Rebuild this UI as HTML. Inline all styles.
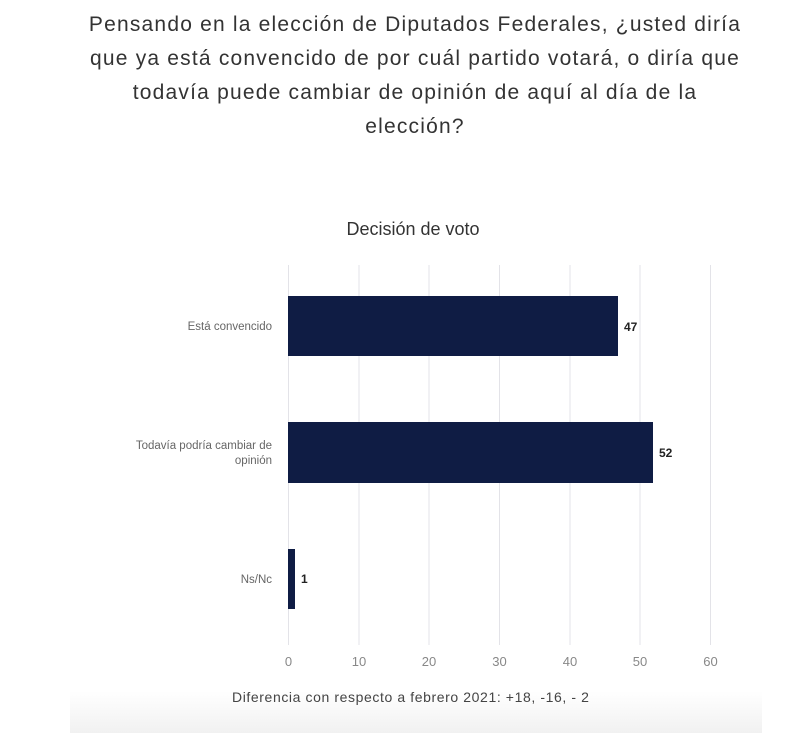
<!DOCTYPE html>
<html><head><meta charset="utf-8"><style>
body{margin:0;width:800px;height:749px;background:#fff;font-family:"Liberation Sans",sans-serif;position:relative;overflow:hidden}
.h{position:absolute;left:0;width:830px;top:8px;text-align:center;font-size:21px;line-height:34px;color:#333;letter-spacing:1.2px;white-space:nowrap}
.band{position:absolute;left:70px;top:640px;width:692px;height:93px;background:linear-gradient(#fff 0%,#fff 55%,#f1f1f1 100%)}
</style></head><body>
<div class="band"></div>
<div class="h">Pensando en la elección de Diputados Federales, ¿usted diría<br>que ya está convencido de por cuál partido votará, o diría que<br>todavía puede cambiar de opinión de aquí al día de la<br>elección?</div>
<svg width="800" height="749" style="position:absolute;left:0;top:0" font-family="Liberation Sans, sans-serif">
<text x="413" y="235" text-anchor="middle" font-size="18" fill="#333">Decisión de voto</text>
<g stroke="#e3e3e8" stroke-width="1">
<line x1="288.5" y1="265" x2="288.5" y2="645"/><line x1="359" y1="265" x2="359" y2="645"/><line x1="429" y1="265" x2="429" y2="645"/><line x1="499.5" y1="265" x2="499.5" y2="645"/><line x1="570" y1="265" x2="570" y2="645"/><line x1="640" y1="265" x2="640" y2="645"/><line x1="710.5" y1="265" x2="710.5" y2="645"/>
</g>
<g fill="#0f1c44">
<rect x="288" y="296" width="330" height="60"/>
<rect x="288" y="422" width="365" height="61"/>
<rect x="288" y="549" width="7" height="60"/>
</g>
<g font-size="12" font-weight="bold" fill="#222">
<text x="624" y="331">47</text><text x="659" y="457">52</text><text x="301" y="583">1</text>
</g>
<g font-size="11.5" fill="#666" text-anchor="end">
<text x="272" y="330">Está convencido</text>
<text x="272" y="449">Todavía podría cambiar de</text>
<text x="272" y="464">opinión</text>
<text x="272" y="583">Ns/Nc</text>
</g>
<g font-size="13" fill="#888" text-anchor="middle">
<text x="288.5" y="666">0</text><text x="359" y="666">10</text><text x="429" y="666">20</text><text x="499.5" y="666">30</text><text x="570" y="666">40</text><text x="640" y="666">50</text><text x="710.5" y="666">60</text>
</g>
<text x="232" y="702" font-size="14" letter-spacing="0.6" fill="#444">Diferencia con respecto a febrero 2021: +18, -16, - 2</text>
</svg>
</body></html>
